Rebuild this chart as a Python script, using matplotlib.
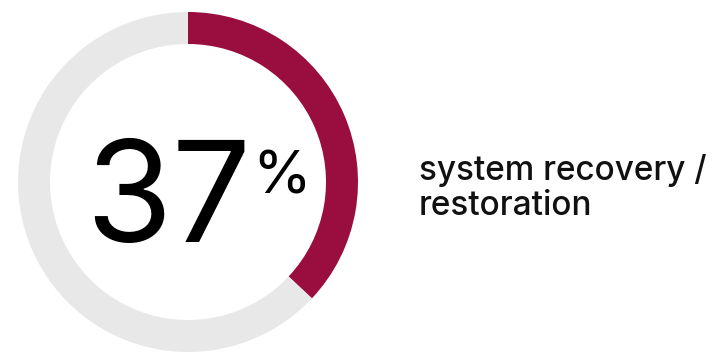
import matplotlib.pyplot as plt

# Data
share = 37
parts = [share, 100 - share]
part_colors = ['#990D3F', '#E8E8E8']
label_lines = ['system recovery /', 'restoration']

W, H = 715, 352
fig = plt.figure(figsize=(W / 100, H / 100), dpi=100)
plt.rcParams['font.family'] = ['Inter', 'DejaVu Sans']

# donut: center (188, 182) px, radius 170 px
cx, cy, r = 188, 182, 170
ax = fig.add_axes([(cx - r) / W, (H - cy - r) / H, 2 * r / W, 2 * r / H])
ax.pie(parts, colors=part_colors, startangle=90, counterclock=False,
       radius=1, wedgeprops=dict(width=32 / r, linewidth=0))
ax.set_xlim(-1, 1)
ax.set_ylim(-1, 1)
ax.set_aspect('equal')
ax.axis('off')

num = fig.text(85 / W, (H - 242) / H, str(share), fontsize=101, color='black',
               ha='left', va='baseline')
# put the % sign just after the number's box
fig.canvas.draw()
right = num.get_window_extent().x1
fig.text((right + 1) / W, (H - 193) / H, '%', fontsize=43, color='black',
         ha='left', va='baseline')

# label, one line at a time
for i, line in enumerate(label_lines):
    fig.text(419 / W, (H - 180 - 35 * i) / H, line, fontsize=24,
             color='#111111', fontweight='medium', ha='left', va='baseline')

fig.savefig('out.png', dpi=100)
